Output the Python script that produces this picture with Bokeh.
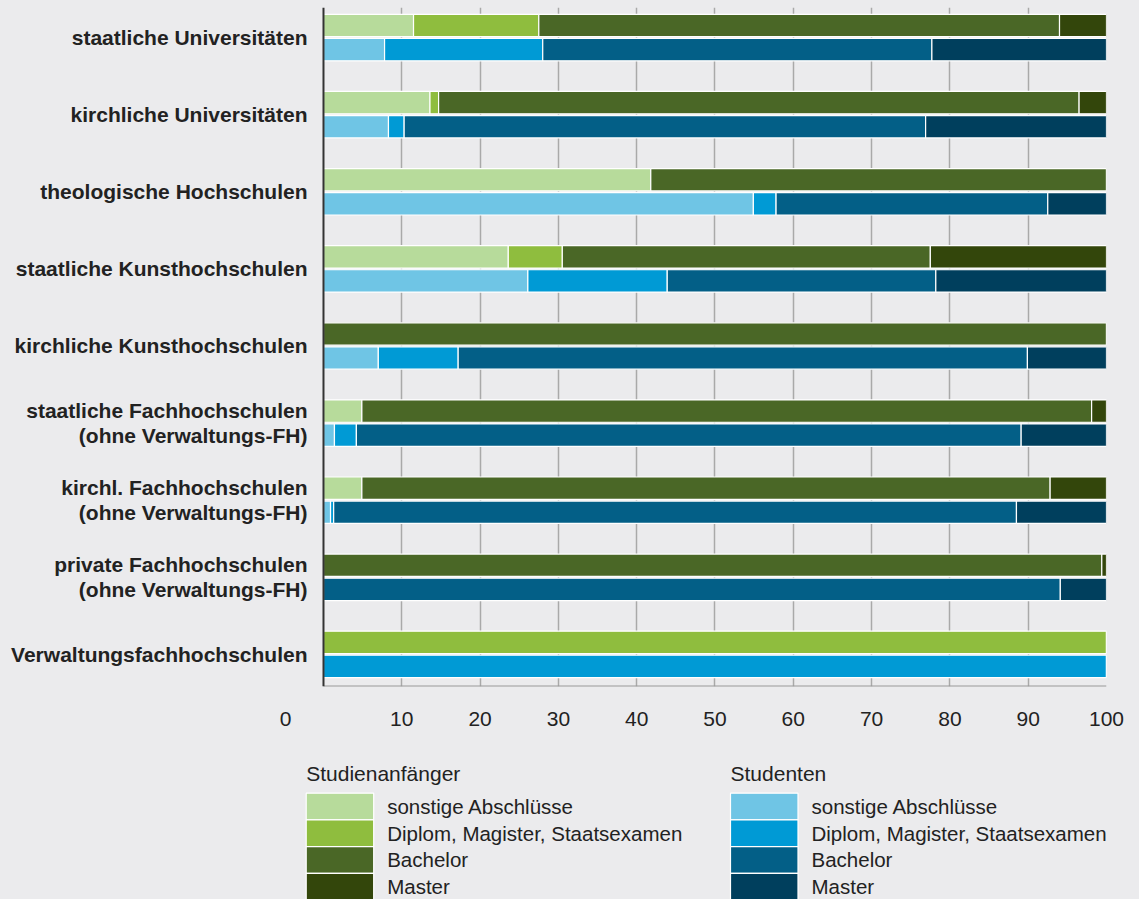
from bokeh.plotting import figure
from bokeh.layouts import column
from bokeh.models import ColumnDataSource, FixedTicker, Span, GlobalInlineStyleSheet
from bokeh.core.properties import value
from bokeh.embed import file_html
from bokeh.resources import INLINE

# ---------------- data ----------------
categories = [
    "staatliche Universitäten",
    "kirchliche Universitäten",
    "theologische Hochschulen",
    "staatliche Kunsthochschulen",
    "kirchliche Kunsthochschulen",
    "staatliche Fachhochschulen\n(ohne Verwaltungs-FH)",
    "kirchl. Fachhochschulen\n(ohne Verwaltungs-FH)",
    "private Fachhochschulen\n(ohne Verwaltungs-FH)",
    "Verwaltungsfachhochschulen",
]
segments = ["sonstige Abschlüsse", "Diplom, Magister, Staatsexamen", "Bachelor", "Master"]
legend_titles = ["Studienanfänger", "Studenten"]

# Studienanfänger (%)
anf_sonst = [11.5, 13.6, 41.8, 23.6, 0.0, 4.9, 4.9, 0.0, 0.0]
anf_dipl  = [16.0, 1.1, 0.0, 6.9, 0.0, 0.0, 0.0, 0.0, 100.0]
anf_bach  = [66.5, 81.8, 58.2, 47.0, 100.0, 93.2, 87.9, 99.4, 0.0]
anf_mast  = [6.0, 3.5, 0.0, 22.5, 0.0, 1.9, 7.2, 0.6, 0.0]

# Studenten (%)
stud_sonst = [7.8, 8.3, 54.9, 26.1, 7.0, 1.4, 0.9, 0.0, 0.0]
stud_dipl  = [20.2, 2.0, 2.9, 17.8, 10.2, 2.8, 0.4, 0.0, 100.0]
stud_bach  = [49.7, 66.6, 34.7, 34.3, 72.7, 84.9, 87.2, 94.1, 0.0]
stud_mast  = [22.3, 23.1, 7.5, 21.8, 10.1, 10.9, 11.5, 5.9, 0.0]

x_ticks = [0, 10, 20, 30, 40, 50, 60, 70, 80, 90, 100]
x_tick_labels = ["0", "10", "20", "30", "40", "50", "60", "70", "80", "90", "100"]

# ---------------- styles ----------------
green_colors = ["#b7db9b", "#8fbd3e", "#4a6726", "#33460b"]
blue_colors = ["#6fc5e5", "#009ad5", "#035f87", "#003f5d"]
BG = "#ebebed"
FONT = "Liberation Sans"
TXT = "#222222"
FS = "21px"
FS_LEG = "20.5px"
ZERO_SHIFT = -4.85      # the "0" label sits left of the axis in the original
X_START = -41.25        # left margin (label area) in data units
W = 1139
FRAME_W = 1106
CSS = GlobalInlineStyleSheet(css="html, body { background-color: #ebebed !important; }")

n = len(categories)
centers = [n - 1 - i for i in range(n)]
off = 0.156
bar_h = 0.29
y_start, y_end = -0.416, n - 1 + 0.39

src_anf = ColumnDataSource(dict(y=[c + off for c in centers],
                                s0=anf_sonst, s1=anf_dipl, s2=anf_bach, s3=anf_mast))
src_stud = ColumnDataSource(dict(y=[c - off for c in centers],
                                 s0=stud_sonst, s1=stud_dipl, s2=stud_bach, s3=stud_mast))
src_lbl = ColumnDataSource(dict(x=[x_ticks[0]] * n, y=centers, text=categories))

p = figure(width=W, height=731, output_backend="svg", toolbar_location=None,
           x_range=(X_START, x_ticks[-1]), y_range=(y_start, y_end),
           y_axis_location=None,
           min_border_left=0, min_border_right=W - FRAME_W, min_border_top=7,
           min_border_bottom=45)
p.background_fill_color = BG
p.border_fill_color = BG
p.outline_line_color = None
p.stylesheets = [CSS]

stack = ["s0", "s1", "s2", "s3"]
r_anf = p.hbar_stack(stack, y="y", height=bar_h, fill_color=green_colors, source=src_anf,
                     line_color="white", line_width=1.2)
r_stud = p.hbar_stack(stack, y="y", height=bar_h, fill_color=blue_colors, source=src_stud,
                      line_color="white", line_width=1.2)

# grid (only at 10..100)
p.xgrid.ticker = FixedTicker(ticks=x_ticks[1:])
p.xgrid.grid_line_color = "#a9a9a9"
p.xgrid.grid_line_width = 1.5
p.ygrid.grid_line_color = None

# x axis: labels only; the "0" label is shifted left like in the original
axis_ticks = [ZERO_SHIFT] + x_ticks[1:]
p.xaxis.ticker = FixedTicker(ticks=axis_ticks)
p.xaxis.major_label_overrides = {t: lab for t, lab in zip(axis_ticks, x_tick_labels)}
p.xaxis.axis_line_color = None
p.xaxis.major_tick_line_color = None
p.xaxis.minor_tick_line_color = None
p.xaxis.major_label_text_font = FONT
p.xaxis.major_label_text_font_size = FS
p.xaxis.major_label_text_color = TXT
p.xaxis.major_label_standoff = 19

# axis lines
p.segment(x0=[x_ticks[0]], y0=[y_start], x1=[x_ticks[-1]], y1=[y_start],
          line_color="#9a9a9a", line_width=2)
p.add_layout(Span(location=x_ticks[0], dimension="height", line_color="#333333", line_width=2))

# category labels
p.text(x="x", y="y", text="text", source=src_lbl, x_offset=-16,
       text_align="right", text_baseline="middle", text_font=value(FONT),
       text_font_size=FS, text_font_style="bold", text_color=TXT, text_line_height=1.1)

# ---------------- legend figure (pixel coordinates, y downward) ----------------
LEG_H = 168
q = figure(width=W, height=LEG_H, output_backend="svg", toolbar_location=None,
           x_range=(0, FRAME_W), y_range=(LEG_H, 0), x_axis_location=None, y_axis_location=None,
           min_border_left=0, min_border_right=W - FRAME_W, min_border_top=0,
           min_border_bottom=0)
q.background_fill_color = BG
q.border_fill_color = BG
q.outline_line_color = None
q.grid.visible = False
q.stylesheets = [CSS]

TITLE_Y = 42
SW_TOP = 61.7
SW_H = 26.7
SW_W = 67.5
LABEL_GAP = 13.5

def draw_legend(title, colors, x0):
    tops = [SW_TOP + i * SW_H for i in range(len(segments))]
    q.quad(left=[x0] * len(segments), right=[x0 + SW_W] * len(segments),
           top=tops, bottom=[t + SW_H for t in tops], fill_color=colors,
           line_color="white", line_width=1.2)
    q.text(x=[x0] * len(segments), y=[t + SW_H / 2 for t in tops], text=segments,
           x_offset=SW_W + LABEL_GAP, text_baseline="middle", text_align="left",
           text_font=value(FONT), text_font_size=FS_LEG, text_color=TXT)
    q.text(x=[x0], y=[TITLE_Y], text=[title], text_baseline="middle", text_align="left",
           text_font=value(FONT), text_font_size=FS, text_color=TXT)

draw_legend(legend_titles[0], green_colors, 305.7)
draw_legend(legend_titles[1], blue_colors, 730)

layout = column(p, q, spacing=0)
layout.stylesheets = [CSS]

open("out.html", "w").write(file_html(layout, INLINE))
